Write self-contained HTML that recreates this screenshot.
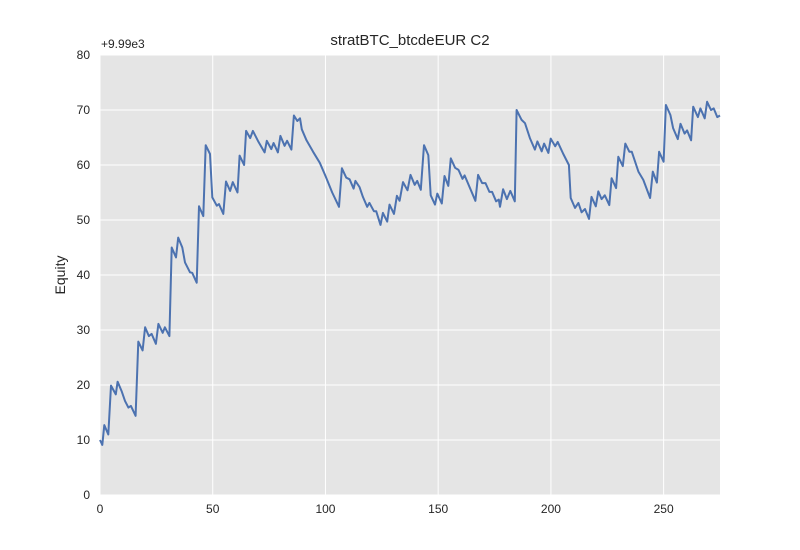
<!DOCTYPE html>
<html><head><meta charset="utf-8"><style>
html,body{margin:0;padding:0;background:#fff;}
svg{display:block;font-family:"Liberation Sans",Arial,sans-serif;}
</style></head><body>
<svg id="chart" width="800" height="550" viewBox="0 0 800 550" xmlns="http://www.w3.org/2000/svg">
<rect x="100" y="55" width="620" height="440" fill="#e5e5e5"/>
<g id="grid"></g>
<g id="xticks"></g>
<g id="yticks"></g>
<path id="line" fill="none" stroke="#4c72b0" stroke-width="2" stroke-linejoin="round"/>
<text x="410" y="45" font-size="15" text-anchor="middle" fill="#262626">stratBTC_btcdeEUR C2</text>
<text x="101" y="48" font-size="12" fill="#262626">+9.99e3</text>
<text x="0" y="0" font-size="14" text-anchor="middle" fill="#262626" transform="translate(65,275) rotate(-90)">Equity</text>
</svg>
<script>
const xTicks=[0,50,100,150,200,250];
const yTicks=[0,10,20,30,40,50,60,70,80];
const xs=[0,1,1.9,3.7,4.9,7,7.8,9.6,11.1,12.6,13.7,15.8,17,18.9,20,21.7,22.9,24.8,25.9,27.8,28.8,30.8,31.8,33.7,34.7,36.5,37.7,39.9,40.9,42.9,43.9,45.8,46.9,48.8,49.8,51.8,52.8,54.7,55.9,57.7,58.9,61,61.9,63.9,64.8,66.6,67.8,70.3,73,74,76,77,78.9,80,81.9,83,84.9,86,87.5,88.7,89.5,91.6,94.5,97.5,100,103,106,107.3,109.2,110.7,112.5,113.3,115.1,116.6,118.5,119.5,121.5,122.5,124.4,125.5,127.4,128.4,130.4,131.7,132.9,134.4,136.4,137.7,139.6,140.7,142.3,143.7,145.6,146.7,148.6,149.6,151.6,152.8,154.5,155.6,157.5,159,160.8,161.7,166.5,167.7,169.5,171,172.7,173.9,175.7,176.9,177.4,178.8,180.5,182,184,184.8,187,188.5,190.7,192.9,194,195.9,197,198.9,199.9,201.9,203,205.5,208,208.8,210.7,212.2,213.6,215.1,216.9,218,219.9,221,222.5,223.9,225.9,226.9,228.9,229.9,231.9,233,234.8,235.9,238.8,241,244,245.2,247,248,250,251,253,254.2,256.3,257.5,259.3,260.4,262.2,263.1,265.2,266.3,268.2,269.3,271,272.2,273.8,275];
const ys=[10,9.1,12.7,11,19.9,18.3,20.6,18.9,17.1,15.9,16.2,14.4,27.9,26.3,30.5,28.9,29.3,27.5,31.1,29.5,30.5,28.9,45,43.2,46.8,45,42.3,40.5,40.4,38.6,52.5,50.7,63.6,62,54.1,52.6,52.9,51.1,57,55.3,56.9,55,61.7,60,66.2,64.9,66.2,64.2,62.3,64.4,62.9,64,62.3,65.3,63.5,64.4,62.8,69,68,68.5,66.5,64.5,62.4,60.4,58,55,52.4,59.4,57.7,57.4,55.7,57.1,56,54.2,52.4,53.1,51.6,51.6,49.1,51.3,49.7,52.8,51.1,54.4,53.5,56.9,55.4,58.2,56.4,57.1,55.5,63.6,61.8,54.5,52.8,54.8,53,58,56.2,61.2,59.5,59.1,57.5,58.1,53.5,58.2,56.7,56.7,55.1,55.1,53.4,53.7,52.4,55.6,53.8,55.3,53.4,70,68.2,67.6,64.9,62.8,64.3,62.5,63.9,62.2,64.8,63.4,64.2,62,60,54,52.2,53.1,51.4,52,50.2,54.2,52.5,55.2,53.8,54.5,52.7,57.6,55.8,61.5,59.8,63.9,62.4,62.4,58.8,57.3,54,58.8,56.8,62.4,60.6,70.9,69.1,66.7,64.7,67.5,65.7,66.3,64.5,70.6,68.7,70.3,68.5,71.5,70,70.3,68.7,69];
const L=100,R=720,T=55,B=495,xMax=275,yMax=80;
const sx=v=>L+(v/xMax)*(R-L), sy=v=>B-(v/yMax)*(B-T);
const NS="http://www.w3.org/2000/svg";
const grid=document.getElementById('grid'),gx=document.getElementById('xticks'),gy=document.getElementById('yticks');
xTicks.forEach(t=>{
  const l=document.createElementNS(NS,'line');
  
  
  l.setAttribute('x1',sx(t));l.setAttribute('x2',sx(t));l.setAttribute('y1',T);l.setAttribute('y2',B);
  l.setAttribute('stroke','#fff');l.setAttribute('stroke-width','1');grid.appendChild(l);
  const tx=document.createElementNS(NS,'text');
  
  
  tx.setAttribute('x',sx(t));tx.setAttribute('y',B+18);tx.setAttribute('font-size','12');
  tx.setAttribute('text-anchor','middle');tx.setAttribute('fill','#262626');tx.textContent=t;gx.appendChild(tx);
});
yTicks.forEach(t=>{
  const l=document.createElementNS(NS,'line');
  
  
  l.setAttribute('x1',L);l.setAttribute('x2',R);l.setAttribute('y1',sy(t));l.setAttribute('y2',sy(t));
  l.setAttribute('stroke','#fff');l.setAttribute('stroke-width','1');grid.appendChild(l);
  const tx=document.createElementNS(NS,'text');
  
  
  tx.setAttribute('x',L-10);tx.setAttribute('y',sy(t)+4);tx.setAttribute('font-size','12');
  tx.setAttribute('text-anchor','end');tx.setAttribute('fill','#262626');tx.textContent=t;gy.appendChild(tx);
});
document.getElementById('line').setAttribute('d',xs.map((x,i)=>(i?'L':'M')+sx(x).toFixed(1)+','+sy(ys[i]).toFixed(1)).join(''));
</script>
</body></html>
